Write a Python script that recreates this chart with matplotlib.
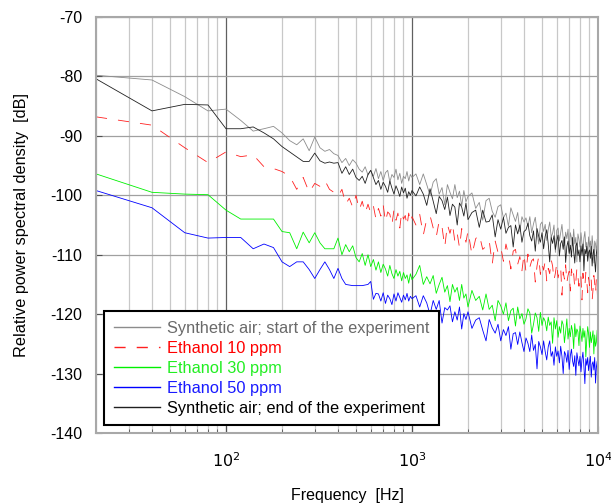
import matplotlib
matplotlib.use("Agg")
import matplotlib.pyplot as plt
from matplotlib.ticker import LogLocator, NullFormatter, FixedLocator

plt.rcParams["font.family"] = ["Liberation Sans", "DejaVu Sans"]
plt.rcParams["axes.unicode_minus"] = False
plt.rcParams["lines.scale_dashes"] = False

# frequency bins [Hz]
freq = [
    20, 40, 60, 80, 100, 120, 140, 160, 180, 200,
    220, 240, 260, 280, 300, 320, 340, 360, 380, 400,
    420, 440, 460, 480, 500, 520, 540, 560, 580, 600,
    620, 640, 660, 680, 700, 720, 740, 760, 780, 800,
    820, 840, 860, 880, 900, 920, 940, 960, 980, 1000,
    1050, 1100, 1150, 1200, 1250, 1300, 1350, 1400, 1450, 1500,
    1550, 1600, 1650, 1700, 1750, 1800, 1850, 1900, 1950, 2000,
    2100, 2200, 2300, 2400, 2500, 2600, 2700, 2800, 2900, 3000,
    3100, 3200, 3300, 3400, 3500, 3600, 3700, 3800, 3900, 4000,
    4100, 4200, 4300, 4400, 4500, 4600, 4700, 4800, 4900, 5000,
    5100, 5200, 5300, 5400, 5500, 5600, 5700, 5800, 5900, 6000,
    6100, 6200, 6300, 6400, 6500, 6600, 6700, 6800, 6900, 7000,
    7100, 7200, 7300, 7400, 7500, 7600, 7700, 7800, 7900, 8000,
    8100, 8200, 8300, 8400, 8500, 8600, 8700, 8800, 8900, 9000,
    9100, 9200, 9300, 9400, 9500, 9600, 9700, 9800, 9900, 10000,
]

# PSD [dB]
air_start = [
    -79.8, -80.6, -83.4, -85.8, -85.5, -87.4, -89.2, -88.8, -88.4, -89.5,
    -90.8, -91.5, -90.5, -92.5, -90.2, -92.0, -92.6, -92.3, -93.0, -93.3,
    -94.5, -93.8, -95.0, -94.0, -94.6, -95.6, -96.1, -95.2, -96.6, -95.8,
    -96.8, -95.5, -97.2, -96.0, -97.5, -96.2, -95.8, -97.8, -96.5, -97.0,
    -95.6, -97.4, -96.3, -98.0, -96.8, -97.2, -96.0, -97.6, -96.5, -97.0,
    -96.4, -98.2, -96.4, -98.2, -100.0, -97.8, -97.2, -99.8, -98.7, -101.6,
    -98.2, -99.5, -100.6, -98.2, -100.4, -99.3, -101.8, -99.2, -101.1, -100.2,
    -99.6, -102.2, -101.2, -104.2, -100.9, -100.5, -102.7, -103.7, -101.9, -101.6,
    -103.8, -103.0, -105.2, -102.1, -103.3, -104.4, -102.9, -106.1, -103.6, -104.5,
    -103.8, -105.3, -103.6, -106.3, -104.8, -103.7, -106.2, -108.2, -104.9, -104.5,
    -106.1, -104.9, -107.6, -105.8, -104.5, -107.0, -106.4, -105.0, -109.6, -105.9,
    -105.5, -107.7, -106.3, -104.9, -107.3, -108.5, -106.2, -107.3, -105.7, -109.6,
    -106.3, -107.2, -108.5, -105.7, -108.2, -107.1, -111.2, -106.5, -107.4, -108.7,
    -106.3, -108.1, -109.4, -107.2, -106.1, -108.7, -107.9, -110.2, -107.0, -108.7,
    -107.7, -109.7, -106.8, -108.6, -111.4, -107.7, -108.2, -109.5, -107.4, -111.0,
]

eth_10 = [
    -86.8, -88.2, -92.0, -94.5, -92.7, -93.5, -93.2, -95.2, -95.5, -96.0,
    -96.8, -99.0, -97.0, -99.5, -98.0, -98.5, -97.5, -99.0, -99.5, -100.2,
    -99.0, -101.5, -100.5, -102.0, -100.0, -102.5, -101.0, -103.0, -101.5, -103.0,
    -101.8, -104.0, -102.2, -103.5, -101.6, -104.5, -102.8, -103.2, -105.0, -102.4,
    -104.2, -103.0, -105.5, -102.8, -104.0, -103.4, -105.2, -103.0, -104.6, -103.6,
    -105.0, -103.2, -106.7, -104.0, -103.4, -105.5, -107.0, -104.3, -105.3, -108.7,
    -104.9, -106.4, -104.8, -107.8, -106.4, -108.8, -105.6, -106.5, -107.9, -106.0,
    -110.0, -107.3, -106.6, -109.1, -108.6, -107.6, -111.6, -107.7, -109.6, -108.7,
    -111.1, -108.2, -110.0, -112.4, -109.4, -109.1, -111.6, -110.3, -112.7, -109.9,
    -112.9, -109.9, -112.1, -111.0, -110.7, -114.6, -111.9, -110.3, -113.3, -111.5,
    -112.6, -111.1, -114.4, -112.3, -113.2, -110.8, -111.9, -114.3, -113.1, -111.4,
    -113.9, -112.8, -112.1, -116.8, -112.9, -114.1, -111.7, -114.7, -113.5, -112.8,
    -116.1, -112.4, -114.1, -113.2, -115.6, -114.5, -112.3, -113.7, -115.3, -113.3,
    -113.8, -117.6, -113.1, -114.7, -115.3, -113.0, -114.4, -116.4, -113.8, -115.2,
    -113.7, -114.3, -117.7, -115.9, -113.5, -114.8, -116.5, -114.0, -115.8, -119.6,
]

eth_30 = [
    -96.4, -99.5, -99.8, -99.9, -102.5, -104.0, -104.0, -104.0, -104.0, -106.1,
    -106.3, -109.0, -106.2, -108.0, -106.3, -108.0, -109.0, -109.0, -109.0, -107.2,
    -110.0, -108.3, -109.5, -108.5, -110.5, -111.2, -109.8, -111.8, -110.0, -112.0,
    -110.8, -112.6, -111.2, -113.0, -111.6, -112.4, -113.6, -111.8, -113.2, -114.0,
    -112.5, -113.6, -112.8, -114.4, -113.0, -114.0, -113.4, -114.8, -113.2, -114.2,
    -113.3, -111.8, -115.0, -113.7, -114.9, -113.5, -116.5, -115.0, -113.8, -116.3,
    -115.2, -117.9, -115.0, -116.3, -115.5, -117.7, -115.0, -117.3, -116.6, -118.8,
    -116.0, -117.7, -117.0, -119.3, -116.6, -119.2, -118.5, -121.1, -117.7, -118.6,
    -120.0, -118.1, -121.1, -119.4, -119.0, -122.0, -118.8, -120.8, -119.9, -121.7,
    -120.8, -119.1, -119.8, -123.2, -121.7, -119.8, -120.6, -122.9, -119.7, -121.9,
    -120.6, -121.2, -122.8, -120.5, -121.9, -121.3, -124.9, -120.6, -122.5, -121.1,
    -123.9, -122.1, -123.2, -121.1, -121.8, -124.8, -122.9, -120.8, -124.2, -122.4,
    -123.8, -121.9, -122.9, -125.8, -121.6, -123.8, -122.5, -123.0, -125.3, -122.0,
    -123.1, -124.6, -122.4, -123.9, -122.8, -127.2, -124.3, -122.1, -123.3, -125.6,
    -123.0, -124.8, -123.9, -122.8, -126.7, -123.5, -125.4, -124.7, -122.7, -128.0,
]

eth_50 = [
    -99.2, -102.1, -106.3, -107.2, -107.1, -107.1, -109.0, -108.2, -108.8, -111.2,
    -112.0, -111.2, -111.2, -112.5, -114.0, -112.5, -111.2, -112.5, -114.0, -112.3,
    -114.0, -115.0, -115.1, -115.2, -115.2, -115.2, -115.2, -115.1, -115.0, -114.5,
    -117.5, -116.5, -116.6, -117.8, -116.4, -118.2, -116.8, -117.4, -118.4, -116.6,
    -117.8, -116.4, -117.2, -118.0, -116.8, -117.6, -116.5, -117.8, -117.0, -117.4,
    -116.9, -118.8, -116.9, -118.1, -120.1, -117.7, -119.2, -117.7, -121.5, -118.9,
    -119.3, -118.6, -121.3, -119.6, -121.0, -118.8, -122.5, -119.9, -120.9, -119.6,
    -122.4, -121.0, -120.6, -122.7, -124.5, -120.9, -122.3, -123.2, -121.7, -124.5,
    -122.6, -123.6, -122.1, -125.9, -123.3, -123.1, -125.1, -123.0, -124.8, -126.3,
    -124.0, -124.9, -126.3, -123.5, -126.1, -125.1, -129.2, -124.6, -125.5, -126.8,
    -124.5, -126.3, -127.7, -125.5, -124.5, -127.1, -126.3, -128.6, -125.5, -127.1,
    -126.2, -128.2, -125.4, -127.1, -130.0, -126.3, -126.8, -128.1, -126.1, -129.3,
    -127.0, -125.9, -127.9, -128.8, -127.0, -130.3, -126.5, -127.7, -128.7, -127.1,
    -129.7, -127.6, -126.4, -128.8, -131.7, -127.5, -128.6, -127.3, -129.5, -128.2,
    -127.1, -130.6, -128.4, -128.0, -129.4, -127.3, -131.6, -128.9, -127.9, -134.0,
]

air_end = [
    -80.4, -85.8, -84.7, -84.8, -88.8, -88.8, -88.5, -89.5, -90.5, -91.8,
    -92.7, -93.5, -94.3, -94.3, -92.9, -94.2, -94.6, -94.4, -94.6, -94.5,
    -96.3, -95.2, -96.5, -95.6, -97.0, -97.5, -96.8, -98.0, -96.5, -95.8,
    -97.0, -98.2, -97.5, -99.0, -97.8, -98.5, -99.5, -97.6, -98.8, -99.8,
    -98.4, -99.2, -100.2, -98.6, -99.6, -98.8, -100.5, -99.4, -100.0, -99.2,
    -100.1, -98.6, -99.8, -101.7, -98.9, -101.0, -103.1, -100.2, -100.9, -102.4,
    -100.3, -103.4, -101.5, -102.0, -105.0, -101.3, -102.0, -103.5, -101.3, -104.1,
    -102.9, -102.5, -105.4, -102.5, -104.5, -104.4, -103.3, -107.0, -104.1, -105.7,
    -103.7, -106.4, -105.4, -105.1, -108.7, -105.0, -106.5, -105.0, -107.9, -106.1,
    -105.8, -104.7, -106.8, -107.7, -106.0, -109.4, -105.6, -106.9, -107.9, -106.3,
    -109.0, -106.9, -105.8, -108.2, -111.2, -107.0, -108.1, -106.8, -109.1, -107.7,
    -106.7, -110.2, -108.1, -107.6, -109.1, -107.0, -111.3, -108.6, -107.7, -109.8,
    -108.4, -110.4, -107.1, -109.4, -111.4, -108.5, -108.0, -110.1, -109.2, -111.2,
    -108.5, -110.0, -108.2, -112.7, -109.1, -109.9, -108.6, -111.1, -109.6, -109.2,
    -110.6, -108.6, -111.9, -109.8, -109.1, -111.2, -112.9, -109.7, -109.1, -113.7,
]

labels = [
    "Synthetic air; start of the experiment",
    "Ethanol 10 ppm",
    "Ethanol 30 ppm",
    "Ethanol 50 ppm",
    "Synthetic air; end of the experiment",
]
line_colors = ["#8c8c8c", "#ff2020", "#00f000", "#0000ff", "#202020"]
text_colors = ["#6a6a6a", "#ff0000", "#22ee22", "#1a1aff", "#000000"]

fig = plt.figure(figsize=(6.11, 5.03), dpi=100)
ax = fig.add_axes([96 / 611, 1 - 433 / 503, 502 / 611, 416 / 503])

series = [air_start, eth_10, eth_30, eth_50, air_end]
for vals, lab, col in zip(series, labels, line_colors):
    if lab == "Ethanol 10 ppm":
        ax.plot(freq, vals, color=col, lw=0.6, dashes=(8, 8), label=lab)
    else:
        ax.plot(freq, vals, color=col, lw=0.6, label=lab)

ax.set_xscale("log")
ax.set_xlim(20, 10000)
ax.set_ylim(-140, -70)
ax.set_yticks(range(-140, -69, 10))
ax.xaxis.set_major_locator(FixedLocator([100, 1000, 10000]))
ax.xaxis.set_minor_locator(LogLocator(base=10, subs=range(2, 10)))
ax.xaxis.set_minor_formatter(NullFormatter())
ax.set_xticklabels(["$10^2$", "$10^3$", "$10^4$"])

ax.grid(True, which="major", axis="y", color="#a0a0a0", lw=0.9)
ax.grid(True, which="major", axis="x", color="#606060", lw=0.9)
ax.grid(True, which="minor", axis="x", color="#c8c8c8", lw=0.9)
ax.set_axisbelow(True)

ax.tick_params(axis="both", which="both", direction="in", labelsize=11.5, color="#505050")
ax.tick_params(axis="x", which="major", pad=13, length=5)
ax.tick_params(axis="x", which="minor", length=3)
ax.tick_params(axis="y", which="major", pad=10, length=4)
for sp in ax.spines.values():
    sp.set_color("#a8a8a8")
    sp.set_linewidth(1.5)

ax.set_xlabel("Frequency  [Hz]", fontsize=11.5, labelpad=13)
ax.set_ylabel("Relative power spectral density  [dB]", fontsize=11.7, labelpad=15)

leg = ax.legend(loc="upper left", bbox_to_anchor=(104 / 611, 1 - 311 / 503),
                bbox_transform=fig.transFigure, fontsize=11.8, frameon=True,
                fancybox=False, framealpha=1, edgecolor="black",
                handlelength=2.8, handletextpad=0.45, labelspacing=0.3,
                borderpad=0.6, borderaxespad=0)
leg.get_frame().set_linewidth(1.5)
for handle in leg.get_lines():
    handle.set_linewidth(1.0)
for txt, col in zip(leg.get_texts(), text_colors):
    txt.set_color(col)

fig.savefig("out.png", dpi=100)
